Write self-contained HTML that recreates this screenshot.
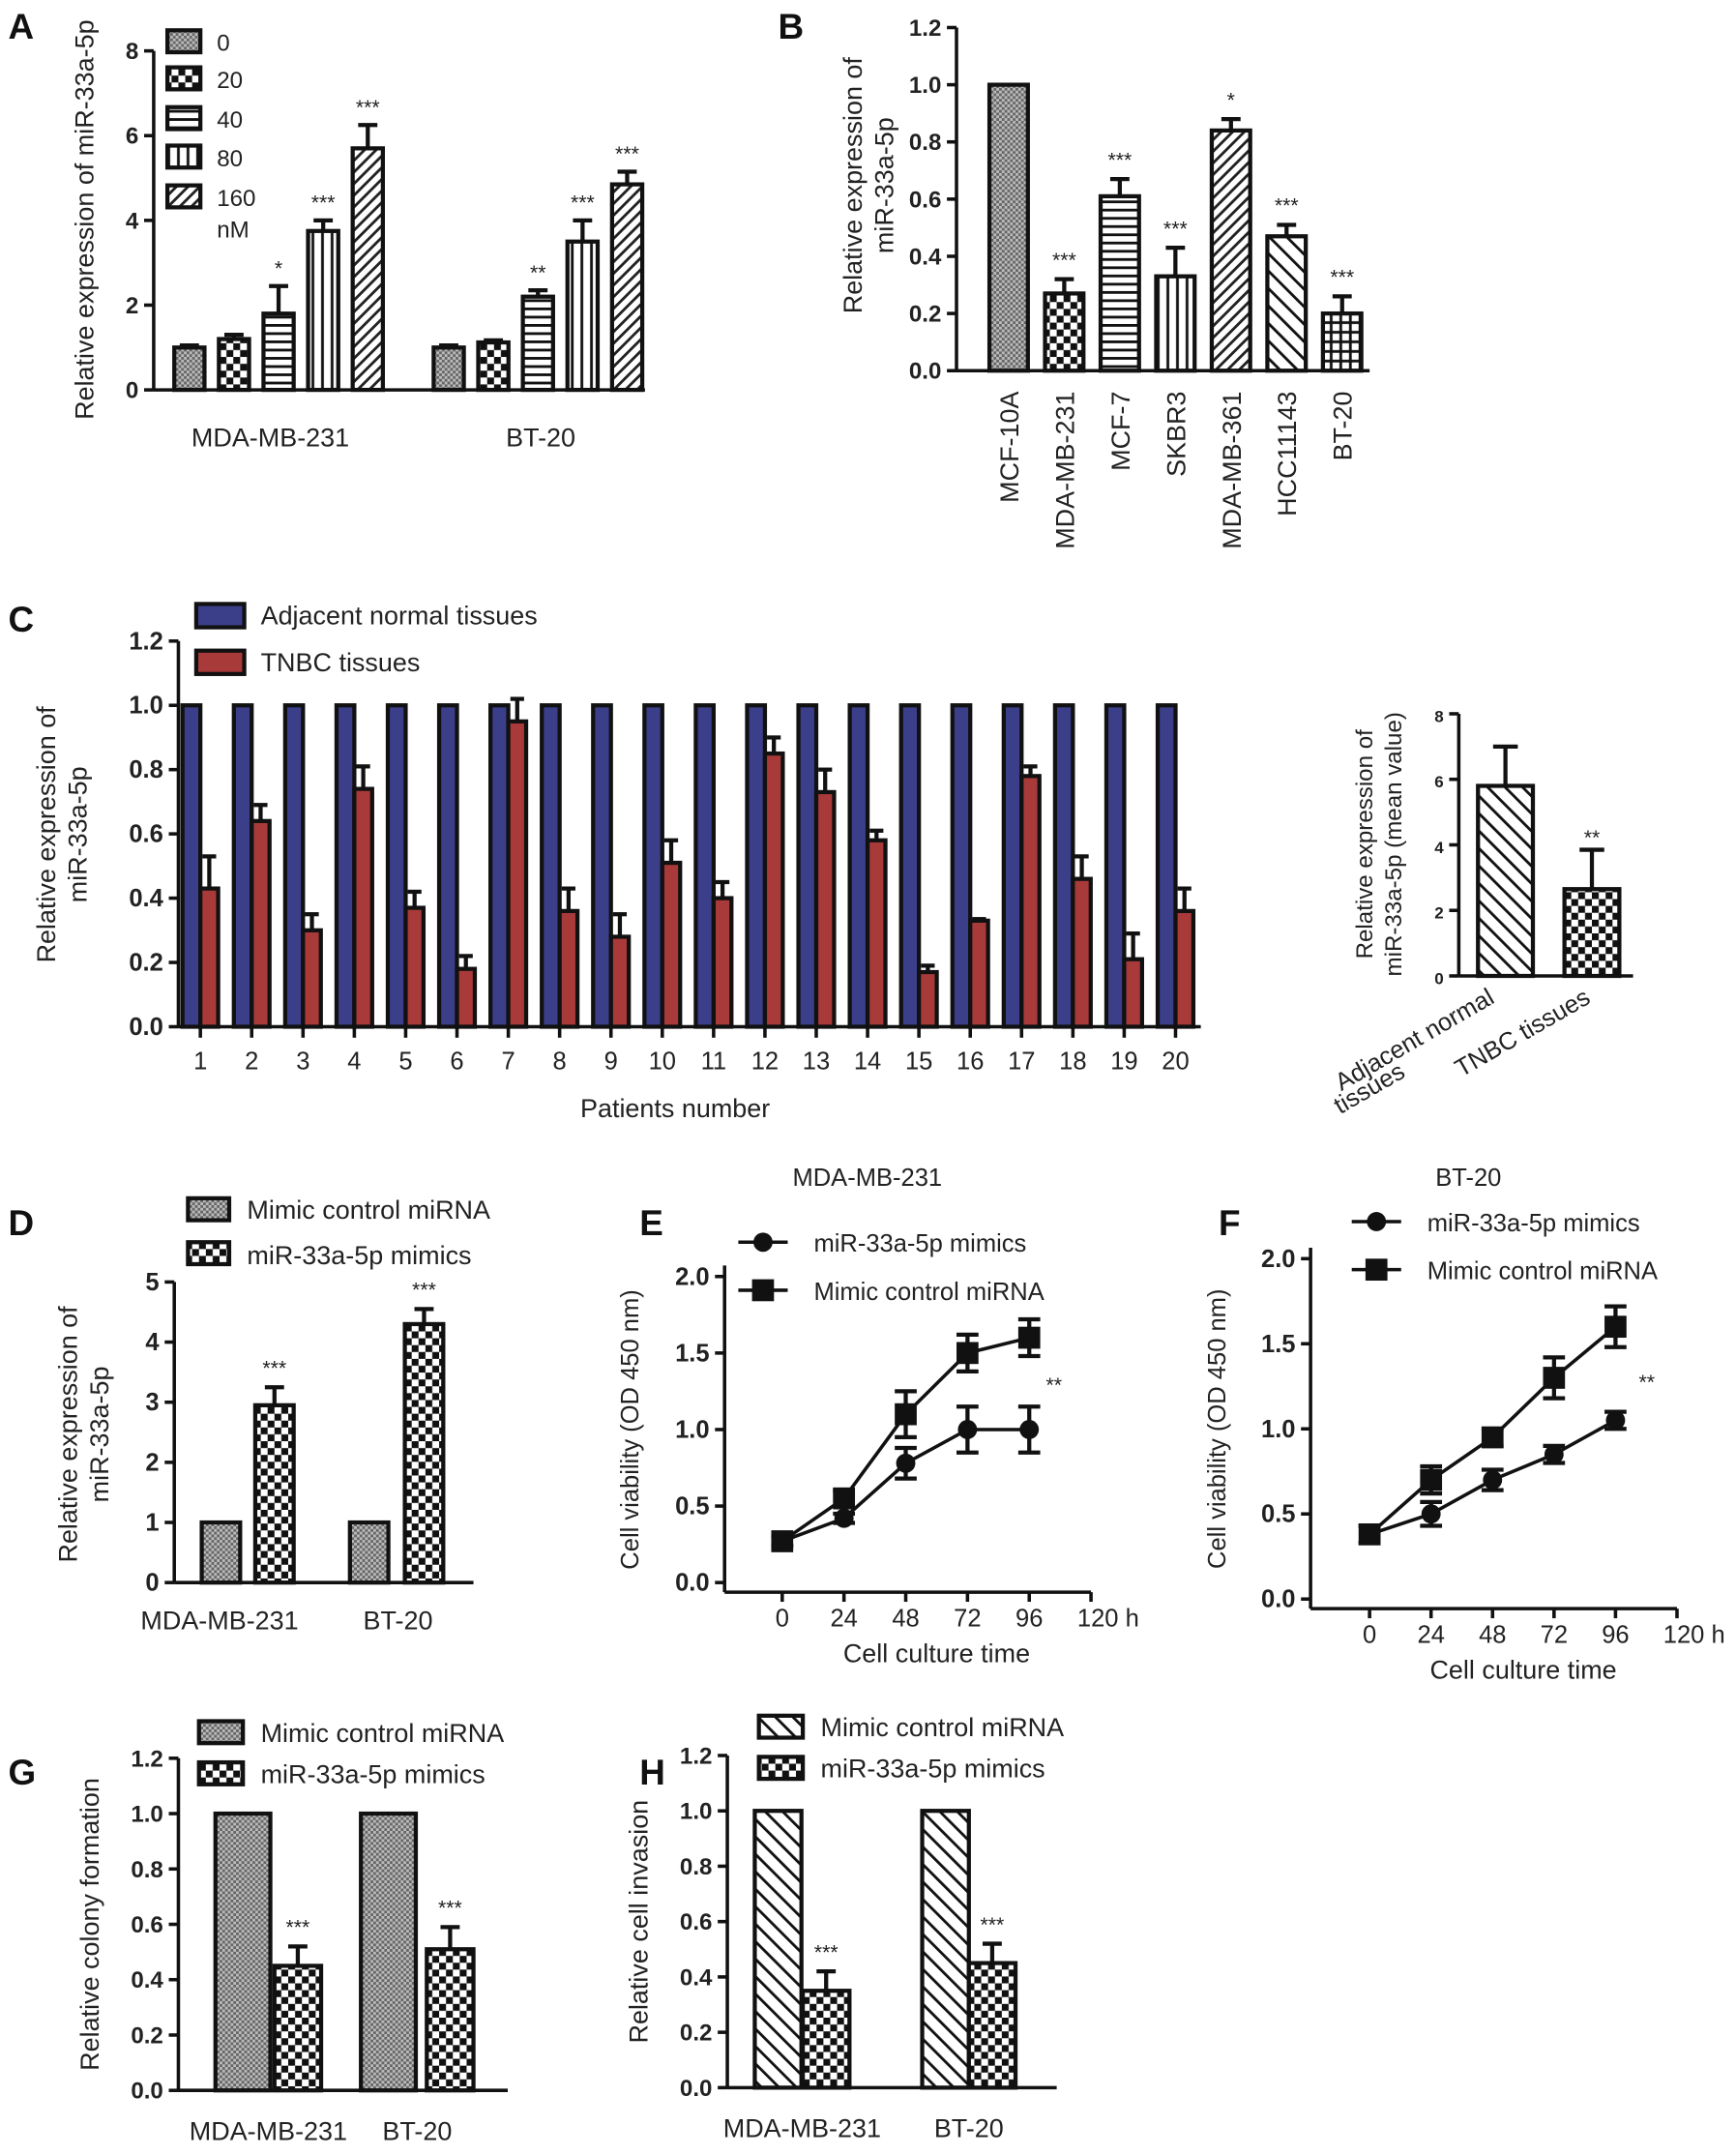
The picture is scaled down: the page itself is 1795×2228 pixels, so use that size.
<!DOCTYPE html>
<html><head><meta charset="utf-8"><style>
html,body{margin:0;padding:0;background:#fff}
svg{display:block;font-family:"Liberation Sans",sans-serif}
</style></head><body>
<svg id="fig" width="1795" height="2228" viewBox="0 0 1265 1570" xmlns="http://www.w3.org/2000/svg">
<defs>
<pattern id="pGray" width="4" height="4" patternUnits="userSpaceOnUse"><rect width="4" height="4" fill="#bbb"/><rect width="2" height="2" fill="#666"/><rect x="2" y="2" width="2" height="2" fill="#666"/></pattern>
<pattern id="pCheck" width="10" height="10" patternUnits="userSpaceOnUse"><rect width="10" height="10" fill="#fff"/><rect width="5" height="5" fill="#111"/><rect x="5" y="5" width="5" height="5" fill="#111"/></pattern>
<pattern id="pHoriz" width="6" height="6" patternUnits="userSpaceOnUse"><rect width="6" height="6" fill="#fff"/><rect y="2" width="6" height="2" fill="#111"/></pattern>
<pattern id="pVert" width="7" height="7" patternUnits="userSpaceOnUse"><rect width="7" height="7" fill="#fff"/><rect x="3" width="2" height="7" fill="#111"/></pattern>
<pattern id="pDiag" width="6" height="6" patternUnits="userSpaceOnUse" patternTransform="rotate(45)"><rect width="6" height="6" fill="#fff"/><rect width="2" height="6" fill="#222"/></pattern>
<pattern id="pDiagB" width="9" height="9" patternUnits="userSpaceOnUse" patternTransform="rotate(-45)"><rect width="9" height="9" fill="#fff"/><rect width="2" height="9" fill="#111"/></pattern>
<pattern id="pGrid" width="7" height="7" patternUnits="userSpaceOnUse"><rect width="7" height="7" fill="#fff"/><rect x="3" width="2" height="7" fill="#111"/><rect y="3" width="7" height="2" fill="#111"/></pattern>
</defs>
</svg>
<script>
// ---- Data ----
const aCats=["MDA-MB-231","BT-20"];
const aDoses=["0","20","40","80","160"];
const aVals=[[1,1.2,1.8,3.75,5.7],[1,1.12,2.2,3.5,4.85]];
const aErrs=[[0.05,0.1,0.65,0.25,0.55],[0.05,0.05,0.15,0.5,0.3]];
const aStars=[["","","*","***","***"],["","","**","***","***"]];
const aTicks=[0,2,4,6,8];
const bCats=["MCF-10A","MDA-MB-231","MCF-7","SKBR3","MDA-MB-361","HCC11143","BT-20"];
const bVals=[1.0,0.27,0.61,0.33,0.84,0.47,0.2];
const bErrs=[0,0.05,0.06,0.1,0.04,0.04,0.06];
const bStars=["","***","***","***","*","***","***"];
const bTicks=[0,0.2,0.4,0.6,0.8,1.0,1.2];
const cPatients=[1,2,3,4,5,6,7,8,9,10,11,12,13,14,15,16,17,18,19,20];
const cNormal=[1,1,1,1,1,1,1,1,1,1,1,1,1,1,1,1,1,1,1,1];
const cTnbc=[0.43,0.64,0.30,0.74,0.37,0.18,0.95,0.36,0.28,0.51,0.40,0.85,0.73,0.58,0.17,0.33,0.78,0.46,0.21,0.36];
const cTnbcErr=[0.1,0.05,0.05,0.07,0.05,0.04,0.07,0.07,0.07,0.07,0.05,0.05,0.07,0.03,0.02,0.005,0.03,0.07,0.08,0.07];
const cTicks=[0,0.2,0.4,0.6,0.8,1.0,1.2];
const c2Cats=["Adjacent normal tissues","TNBC tissues"];
const c2Vals=[5.8,2.65];
const c2Errs=[1.2,1.2];
const c2Ticks=[0,2,4,6,8];
const dCats=["MDA-MB-231","BT-20"];
const dCtrl=[1,1];
const dMimic=[2.95,4.3];
const dMimicErr=[0.3,0.25];
const dTicks=[0,1,2,3,4,5];
const timeH=[0,24,48,72,96];
const eMimic=[0.27,0.42,0.78,1.0,1.0];
const eMimicErr=[0.03,0.03,0.1,0.15,0.15];
const eCtrl=[0.27,0.55,1.1,1.5,1.6];
const eCtrlErr=[0.03,0.05,0.15,0.12,0.12];
const fMimic=[0.38,0.5,0.7,0.85,1.05];
const fMimicErr=[0.05,0.07,0.06,0.05,0.05];
const fCtrl=[0.38,0.7,0.95,1.3,1.6];
const fCtrlErr=[0.05,0.08,0.05,0.12,0.12];
const lineTicks=[0,0.5,1.0,1.5,2.0];
const timeTicks=[0,24,48,72,96,120];
const gCtrl=[1,1];
const gMimic=[0.45,0.51];
const gMimicErr=[0.07,0.08];
const hCtrl=[1,1];
const hMimic=[0.35,0.45];
const hMimicErr=[0.07,0.07];
const ghTicks=[0,0.2,0.4,0.6,0.8,1.0,1.2];

const svg=document.getElementById('fig');
const NS="http://www.w3.org/2000/svg";
function el(tag,attrs,parent){const e=document.createElementNS(NS,tag);for(const k in attrs)e.setAttribute(k,attrs[k]);(parent||svg).appendChild(e);return e;}
function txt(s,x,y,size,anchor,parent,extra){const t=el('text',Object.assign({x:x,y:y,'font-size':size,'text-anchor':anchor||'middle',fill:'#222'},extra||{}),parent);t.textContent=s;return t;}
function grp(name){const g=el('g',{});return g;}
function lin(y0,y1,v0,v1){return v=>y0+(v-v0)*(y1-y0)/(v1-v0);}
function yAxis(g,x,yTop,yBot,ticks,sc,fmt,fs){
  el('line',{x1:x,y1:yTop,x2:x,y2:yBot,stroke:'#111','stroke-width':2.5},g);
  ticks.forEach(t=>{const y=sc(t);el('line',{x1:x-7,y1:y,x2:x,y2:y,stroke:'#111','stroke-width':2.5},g);
    const l=txt(fmt(t),x-11,y+6,fs||17,'end',g,{'font-weight':'bold'});});
}
function bar(g,x,w,yTop,yBase,fill,name,sw){
  const r=el('rect',{x:x,y:yTop,width:w,height:yBase-yTop,fill:fill,stroke:'#111','stroke-width':sw||3},g);
  return r;
}
function err(g,cx,yv,yE,cap){el('line',{x1:cx,y1:yv,x2:cx,y2:yE,stroke:'#111','stroke-width':3},g);el('line',{x1:cx-cap,y1:yE,x2:cx+cap,y2:yE,stroke:'#111','stroke-width':3},g);}
function label(s,x,y){const t=txt(s,x,y,26,'start',svg,{'font-weight':'bold',fill:'#111'});}
function ytitle(g,lines,x,y,fs){lines.forEach((s,i)=>{const t=txt(s,x+i*(fs+4),y,fs,'middle',g,{transform:`rotate(-90 ${x+i*(fs+4)} ${y})`});});}

label('A',6,28);label('B',567,28);label('C',6,460);label('D',6,900);label('E',466,900);label('F',888,900);label('G',6,1300);label('H',466,1300);
// ---- Panel A ----
(function(){const g=grp('panel-a');const sc=lin(284,37,0,8);
 yAxis(g,112,37,284,aTicks,sc,v=>v);
 el('line',{x1:112,y1:284,x2:470,y2:284,stroke:'#111','stroke-width':2.5},g);
 const fills=['url(#pGray)','url(#pCheck)','url(#pHoriz)','url(#pVert)','url(#pDiag)'];
 const starts=[127,316];
 aVals.forEach((vals,gi)=>{vals.forEach((v,i)=>{const x=starts[gi]+i*32.5;bar(g,x,22,sc(v),284,fills[i],'bar-'+aCats[gi]+'-'+aDoses[i]);
   const cx=x+11;err(g,cx,sc(v),sc(v+aErrs[gi][i]),7);if(aStars[gi][i])txt(aStars[gi][i],cx,sc(v+aErrs[gi][i])-8,15,'middle',g);});
   txt(aCats[gi],[197,394][gi],325,19,'middle',g);});
 aDoses.forEach((d,i)=>{const y=[30,57,86,114,143][i];bar(g,122,24,y-8,y+8,fills[i],'legend-swatch',3);txt(d,158,y+7,17,'start',g);});
 txt('nM',158,173,17,'start',g);
 ytitle(g,['Relative expression of miR-33a-5p'],68,160,19);
})();
// ---- Panel B ----
(function(){const g=grp('panel-b');const sc=lin(270,20,0,1.2);
 yAxis(g,697,20,270,bTicks,sc,v=>v.toFixed(1));
 el('line',{x1:697,y1:270,x2:998,y2:270,stroke:'#111','stroke-width':2.5},g);
 const fills=['url(#pGray)','url(#pCheck)','url(#pHoriz)','url(#pVert)','url(#pDiag)','url(#pDiagB)','url(#pGrid)'];
 bCats.forEach((c,i)=>{const cx=735+i*40.5;bar(g,cx-14,28,sc(bVals[i]),270,fills[i],'bar-'+c);
  if(bErrs[i])err(g,cx,sc(bVals[i]),sc(bVals[i]+bErrs[i]),7);
  if(bStars[i])txt(bStars[i],cx,sc(bVals[i]+bErrs[i])-9,15,'middle',g);
  const t=txt(c,cx+7,285,19,'end',g,{transform:`rotate(-90 ${cx+7} 285)`});});
 ytitle(g,['Relative expression of','miR-33a-5p'],628,135,19);
})();
// ---- Panel C ----
(function(){const g=grp('panel-c');const sc=lin(748,467,0,1.2);
 yAxis(g,130,467,748,cTicks,sc,v=>v.toFixed(1),18);
 el('line',{x1:130,y1:748,x2:875,y2:748,stroke:'#111','stroke-width':2.5},g);
 cPatients.forEach((p,i)=>{const c=146+i*37.4;
  el('line',{x1:c,y1:748,x2:c,y2:756,stroke:'#111','stroke-width':2.5},g);
  bar(g,c-13,13,sc(cNormal[i]),748,'#3b3f8a','bar-normal-'+p,3);
  bar(g,c,13,sc(cTnbc[i]),748,'#a83a3a','bar-tnbc-'+p,3);
  err(g,c+6.5,sc(cTnbc[i]),sc(cTnbc[i]+cTnbcErr[i]),5);
  txt(String(p),c,779,18,'middle',g);});
 bar(g,143,35,440,457,'#3b3f8a','legend-swatch-normal',3);txt('Adjacent normal tissues',190,455,19,'start',g);
 bar(g,143,35,474,491,'#a83a3a','legend-swatch-tnbc',3);
 txt('TNBC tissues',190,489,19,'start',g);
 txt('Patients number',492,814,19,'middle',g);
 ytitle(g,['Relative expression of','miR-33a-5p'],40,608,19);
})();
// ---- Panel C inset ----
(function(){const g=grp('panel-c-inset');const sc=lin(711,520,0,8);
 yAxis(g,1063,520,711,c2Ticks,sc,v=>v,12);
 el('line',{x1:1063,y1:711,x2:1190,y2:711,stroke:'#111','stroke-width':2.5},g);
 const fills=['url(#pDiagB)','url(#pCheck)'];
 [1097,1160].forEach((cx,i)=>{bar(g,cx-20,40,sc(c2Vals[i]),711,fills[i],'bar-'+c2Cats[i]);err(g,cx,sc(c2Vals[i]),sc(c2Vals[i]+c2Errs[i]),9);});
 txt('**',1160,615,15,'middle',g);
 txt('Adjacent normal',1090,730,18,'end',g,{transform:'rotate(-30 1090 730)'});
 txt('tissues',1025,784,18,'end',g,{transform:'rotate(-30 1025 784)'});
 txt('TNBC tissues',1160,730,18,'end',g,{transform:'rotate(-30 1160 730)'});
 ytitle(g,['Relative expression of','miR-33a-5p (mean value)'],1000,615,17);
})();
// ---- Panel D ----
(function(){const g=grp('panel-d');const sc=lin(1153,934,0,5);
 yAxis(g,127,934,1153,dTicks,sc,v=>v,18);
 el('line',{x1:127,y1:1153,x2:345,y2:1153,stroke:'#111','stroke-width':2.5},g);
 [[147,186],[255,295]].forEach((xs,i)=>{bar(g,xs[0],28,sc(dCtrl[i]),1153,'url(#pGray)','bar-control-'+dCats[i]);
  bar(g,xs[1],28,sc(dMimic[i]),1153,'url(#pCheck)','bar-mimic-'+dCats[i]);
  err(g,xs[1]+14,sc(dMimic[i]),sc(dMimic[i]+dMimicErr[i]),7);txt('***',xs[1]+14,sc(dMimic[i]+dMimicErr[i])-9,15,'middle',g);
  txt(dCats[i],[160,290][i],1187,19,'middle',g);});
 bar(g,137,30,873,889,'url(#pGray)','legend-swatch');txt('Mimic control miRNA',180,888,19,'start',g);
 bar(g,137,30,905,921,'url(#pCheck)','legend-swatch');txt('miR-33a-5p mimics',180,921,19,'start',g);
 ytitle(g,['Relative expression of','miR-33a-5p'],56,1045,19);
})();
// ---- Line panels ----
function linePanel(name,ax,yTop,yBot,x0,x120,mim,mimE,ctl,ctlE,title,tx,ty,star,sx,sy,legY,legX,ytx){
 const g=grp(name);const sc=lin(yBot,yTop,0,2.0);const xs=lin(x0,x120,0,120);
 yAxis(g,ax,yTop-8,yBot+7,lineTicks,sc,v=>v.toFixed(1),18);
 el('line',{x1:ax,y1:yBot+7,x2:x120,y2:yBot+7,stroke:'#111','stroke-width':2.5},g);
 timeTicks.forEach(t=>{el('line',{x1:xs(t),y1:yBot+7,x2:xs(t),y2:yBot+14,stroke:'#111','stroke-width':2.5},g);txt(t===120?'120 h':String(t),t===120?xs(t)-10:xs(t),yBot+32,18,t===120?'start':'middle',g);});
 [[ctl,ctlE,'sq'],[mim,mimE,'ci']].forEach(([vals,errs,m])=>{
  const pts=vals.map((v,i)=>[xs(timeH[i]),sc(v)]);
  const p=el('polyline',{points:pts.map(p=>p.join(',')).join(' '),fill:'none',stroke:'#111','stroke-width':2.5},g);
  
  vals.forEach((v,i)=>{const x=xs(timeH[i]);el('line',{x1:x,y1:sc(v-errs[i]),x2:x,y2:sc(v+errs[i]),stroke:'#111','stroke-width':3},g);
   [v-errs[i],v+errs[i]].forEach(e=>el('line',{x1:x-8,y1:sc(e),x2:x+8,y2:sc(e),stroke:'#111','stroke-width':3},g));
   if(m==='sq')el('rect',{x:x-8,y:sc(v)-8,width:16,height:16,fill:'#111'},g);else el('circle',{cx:x,cy:sc(v),r:7,fill:'#111'},g);});
 });
 txt(title,tx,ty,18,'middle',g);
 txt(star,sx,sy,15,'middle',g);
 el('line',{x1:legX,y1:legY,x2:legX+36,y2:legY,stroke:'#111','stroke-width':2.5},g);el('circle',{cx:legX+18,cy:legY,r:7,fill:'#111'},g);
 txt('miR-33a-5p mimics',legX+55,legY+7,18,'start',g);
 el('line',{x1:legX,y1:legY+35,x2:legX+36,y2:legY+35,stroke:'#111','stroke-width':2.5},g);el('rect',{x:legX+10,y:legY+27,width:16,height:16,fill:'#111'},g);
 txt('Mimic control miRNA',legX+55,legY+42,18,'start',g);
 txt('Cell culture time',(x0+x120)/2,yBot+58,19,'middle',g);
 ytitle(g,['Cell viability (OD 450 nm)'],ytx,(yTop+yBot)/2,18);
}
linePanel('panel-e',528,930,1153,570,795,eMimic,eMimicErr,eCtrl,eCtrlErr,'MDA-MB-231',632,864,'**',768,1014,905,538,465);
linePanel('panel-f',955,917,1165,998,1222,fMimic,fMimicErr,fCtrl,fCtrlErr,'BT-20',1070,864,'**',1200,1012,890,985,893);
// ---- Panel G / H ----
function barPanel(name,ax,yTop,yBot,ctl,mim,mimE,xsC,xsM,wc,wm,fc,legY,ytl,lx){
 const g=grp(name);const sc=lin(yBot,yTop,0,1.2);
 yAxis(g,ax,yTop,yBot,ghTicks,sc,v=>v.toFixed(1),17);
 el('line',{x1:ax,y1:yBot,x2:ax+240,y2:yBot,stroke:'#111','stroke-width':2.5},g);
 [0,1].forEach(i=>{bar(g,xsC[i],wc,sc(ctl[i]),yBot,fc,'bar-control-'+dCats[i]);bar(g,xsM[i],wm,sc(mim[i]),yBot,'url(#pCheck)','bar-mimic-'+dCats[i]);
  const cx=xsM[i]+wm/2;err(g,cx,sc(mim[i]),sc(mim[i]+mimE[i]),7);txt('***',cx,sc(mim[i]+mimE[i])-9,15,'middle',g);
  txt(dCats[i],(xsC[i]+xsM[i]+wm)/2,yBot+36,19,'middle',g);});
 bar(g,lx,32,legY-9,legY+7,fc,'legend-swatch');txt('Mimic control miRNA',lx+45,legY+6,19,'start',g);
 bar(g,lx,32,legY+21,legY+37,'url(#pCheck)','legend-swatch');txt('miR-33a-5p mimics',lx+45,legY+36,19,'start',g);
 ytitle(g,[ytl],ax-58,(yTop+yBot)/2,19);
}
barPanel('panel-g',130,1281,1523,gCtrl,gMimic,gMimicErr,[157,263],[200,311],40,34,'url(#pGray)',1263,'Relative colony formation',145);
barPanel('panel-h',530,1279,1521,hCtrl,hMimic,hMimicErr,[550,672],[585,706],34,34,'url(#pDiagB)',1259,'Relative cell invasion',553);
</script>
</body></html>
